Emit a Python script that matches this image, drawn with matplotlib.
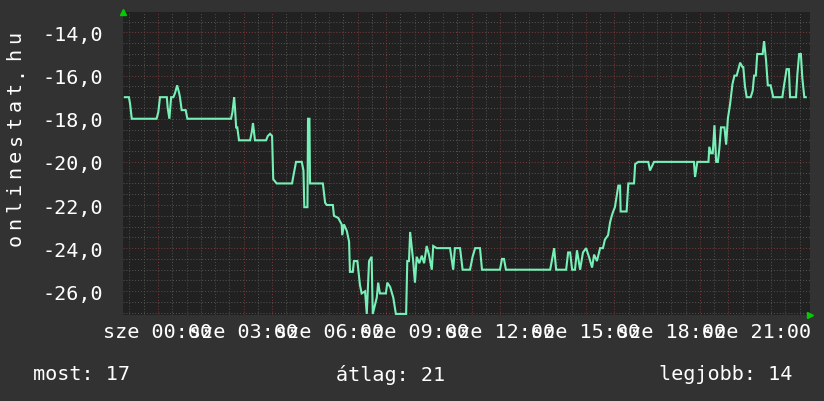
import numpy as np
import matplotlib
matplotlib.use("Agg")
import matplotlib.pyplot as plt
from matplotlib.ticker import MultipleLocator, FuncFormatter

# hours since "sze 00:00" (negative = previous evening)
hours = [-1.16, -1.02, -0.98, -0.92, -0.05, 0.01, 0.07, 0.31, 0.34, 0.40,
         0.46, 0.54, 0.60, 0.67, 0.74, 0.77, 0.83, 0.97, 1.03, 2.56,
         2.61, 2.67, 2.70, 2.74, 2.78, 2.84, 3.23, 3.29, 3.33, 3.40,
         3.79, 3.85, 3.93, 4.00, 4.04, 4.16, 4.70, 4.74, 4.84, 5.04,
         5.10, 5.13, 5.24, 5.26, 5.31, 5.33, 5.78, 5.86, 5.92, 6.13,
         6.17, 6.32, 6.44, 6.46, 6.52, 6.62, 6.70, 6.73, 6.83, 6.87,
         6.99, 7.08, 7.14, 7.26, 7.32, 7.40, 7.49, 7.53, 7.67, 7.72,
         7.78, 7.99, 8.04, 8.14, 8.25, 8.34, 8.70, 8.74, 8.80, 8.84,
         8.94, 9.01, 9.07, 9.16, 9.25, 9.33, 9.42, 9.50, 9.60, 9.65,
         9.77, 10.24, 10.35, 10.41, 10.59, 10.68, 10.94, 11.03, 11.12, 11.29,
         11.36, 11.99, 12.06, 12.13, 12.20, 13.75, 13.82, 13.89, 13.96, 14.31,
         14.38, 14.45, 14.52, 14.62, 14.69, 14.80, 14.90, 15.01, 15.11, 15.22,
         15.29, 15.39, 15.50, 15.60, 15.67, 15.78, 15.85, 15.91, 15.96, 16.02,
         16.14, 16.20, 16.22, 16.43, 16.49, 16.69, 16.73, 16.84, 17.19, 17.25,
         17.39, 18.79, 18.83, 18.91, 19.30, 19.33, 19.39, 19.45, 19.51, 19.57,
         19.63, 19.68, 19.74, 19.86, 19.92, 19.98, 20.06, 20.14, 20.21, 20.29,
         20.41, 20.49, 20.52, 20.58, 20.64, 20.78, 20.85, 20.90, 20.96, 21.01,
         21.20, 21.25, 21.32, 21.38, 21.48, 21.57, 21.89, 21.95, 22.04, 22.12,
         22.16, 22.37, 22.42, 22.48, 22.54, 22.59, 22.66, 22.71]

values = [-17, -17, -17.3, -18, -18, -17.7, -17, -17, -17.5, -18,
          -17, -17, -16.8, -16.45, -16.8, -17, -17.6, -17.6, -18, -18,
          -17.7, -17, -17.5, -18.4, -18.4, -19, -19, -18.6, -18.2, -19,
          -19, -18.8, -18.7, -18.8, -20.8, -21, -21, -20.7, -20, -20,
          -20.4, -22.1, -22.1, -18, -18, -21, -21, -21.9, -22, -22,
          -22.5, -22.6, -22.9, -23.4, -22.9, -23.2, -23.7, -25.1, -25.1, -24.6,
          -24.6, -25.7, -26.1, -26, -27.05, -24.6, -24.4, -27.05, -26.3, -25.6,
          -26.1, -26.1, -25.6, -25.8, -26.3, -27.05, -27.05, -24.6, -24.6, -23.25,
          -24.5, -25.6, -24.4, -24.7, -24.35, -24.7, -23.9, -24.3, -25, -23.9,
          -24, -24, -25, -24, -24, -25, -25, -24.4, -24, -24,
          -25, -25, -24.5, -24.5, -25, -25, -24.5, -24, -25, -25,
          -24.2, -24.2, -25, -25, -24.1, -25, -24.2, -24, -24.4, -24.9,
          -24.3, -24.6, -24, -24, -23.6, -23.4, -22.8, -22.5, -22.3, -22.1,
          -21.1, -21.1, -22.3, -22.3, -21, -21, -20.1, -20, -20, -20.4,
          -20, -20, -20.7, -20, -20, -19.3, -19.6, -19.6, -18.3, -20,
          -20, -19.4, -18.4, -18.4, -19.2, -18, -17.3, -16.4, -16, -16,
          -15.4, -15.6, -15.6, -16.5, -17, -17, -16.7, -16, -16, -15,
          -15, -14.4, -15.3, -16.45, -16.45, -17, -17, -16.45, -15.7, -15.7,
          -17, -17, -15.9, -15, -15, -16.1, -17, -17]

tick_hours = [0, 3, 6, 9, 12, 15, 18, 21]

legend = ["most: 17", "átlag: 21", "legjobb: 14"]

BG = "#323232"
CANVAS = "#212121"
MONO = "DejaVu Sans Mono"


def xlabel(v, pos):
    h = int(round(v))
    if abs(v - h) < 1e-6 and h in tick_hours:
        return "sze %02d:00" % h
    return ""


fig = plt.figure(figsize=(8.24, 4.02), dpi=100, facecolor=BG)
ax = fig.add_axes([123 / 824, 86 / 402, 687 / 824, 303 / 402], facecolor=CANVAS)

ax.plot(hours, values, color="#77f0b8", lw=1.5, solid_joinstyle="miter")

ax.set_xlim(-1.227, 22.86)
ax.set_ylim(-27.1, -13.05)

# red grid every hour / 2 units, grey every half
ax.xaxis.set_major_locator(MultipleLocator(1))
ax.xaxis.set_minor_locator(MultipleLocator(0.5))
ax.yaxis.set_major_locator(MultipleLocator(2))
ax.yaxis.set_minor_locator(MultipleLocator(0.5))

ax.grid(which="minor", color="#555555", lw=0.7, ls=(0, (1, 2)))
ax.grid(which="major", color="#7a3a3a", lw=0.7, ls=(0, (1, 2)))
ax.set_axisbelow(True)

ax.yaxis.set_major_formatter(FuncFormatter(lambda v, p: ("%.1f" % v).replace(".", ",")))
ax.xaxis.set_major_formatter(FuncFormatter(xlabel))

ax.tick_params(axis="both", which="both", length=0, colors="white", labelsize=14.5)
ax.tick_params(axis="y", pad=14)
ax.tick_params(axis="x", pad=5)
for lab in ax.get_xticklabels() + ax.get_yticklabels():
    lab.set_family(MONO)

for s in ax.spines.values():
    s.set_visible(False)

# rrdtool style arrows
ax.plot([0], [1.0], marker="^", color="#00cc00", ms=5, transform=ax.transAxes, clip_on=False)
ax.plot([1.0], [0], marker=">", color="#00cc00", ms=5, transform=ax.transAxes, clip_on=False)

# vertical axis title, letter-spaced like the original
title = "onlinestat.hu"
y0 = 248
for i, ch in enumerate(title):
    fig.text(15 / 824, 1 - (y0 - 8 - i * 16.9) / 402, ch, rotation=90, color="white",
             family=MONO, fontsize=14.5, ha="center", va="center")

fig.text(33 / 824, 1 - 375 / 402, legend[0], color="white", family=MONO, fontsize=14.5, ha="left", va="center")
fig.text(336 / 824, 1 - 375 / 402, legend[1], color="white", family=MONO, fontsize=14.5, ha="left", va="center")
fig.text(792 / 824, 1 - 375 / 402, legend[2], color="white", family=MONO, fontsize=14.5, ha="right", va="center")

fig.savefig("out.png", dpi=100, facecolor=BG)
